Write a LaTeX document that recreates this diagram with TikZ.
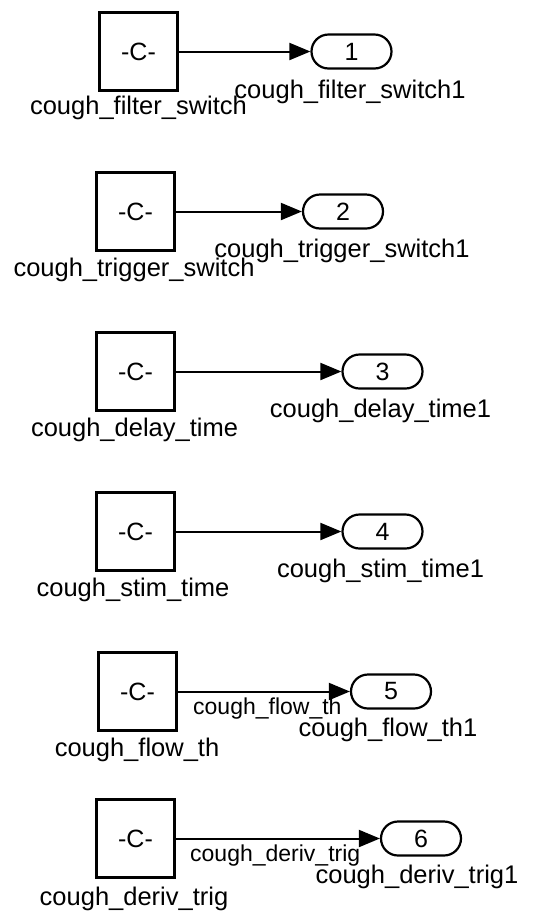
\documentclass[tikz,border=0pt]{standalone}
\usepackage{fontspec}
\setmainfont{Liberation Sans}
\usetikzlibrary{arrows.meta}
\tikzset{
  const/.style={draw, line width=2.6pt, minimum width=78pt, minimum height=78pt, inner sep=0pt, font=\fontsize{25}{28}\selectfont},
  outp/.style={draw, line width=2.2pt, rounded corners=17pt, minimum width=80pt, minimum height=34pt, inner sep=0pt, font=\fontsize{25}{28}\selectfont},
  sig/.style={line width=2pt, -{Triangle[length=21pt,width=17pt]}},
  bname/.style={anchor=base, inner sep=0pt, font=\fontsize{25.5}{28}\selectfont},
  sname/.style={anchor=base west, inner sep=0pt, font=\fontsize{23}{26}\selectfont},
}
\begin{document}
\begin{tikzpicture}[x=1pt,y=-1pt]
\useasboundingbox (0,0) rectangle (535,914);
% row 1
\node[const] (c1) at (138.5,51.5) {-C-};
\node[outp] (o1) at (351.5,51.5) {1};
\draw[sig] (c1.east) -- (o1.west);
\node[bname] (n1) at (138.5,114) {cough\_filter\_switch};
\node[bname] (m1) at (350,98) {cough\_filter\_switch1};
% row 2
\node[const] (c2) at (135.5,211.5) {-C-};
\node[outp] (o2) at (343,211.5) {2};
\draw[sig] (c2.east) -- (o2.west);
\node[bname] (n2) at (134,276) {cough\_trigger\_switch};
\node[bname] (m2) at (342,257) {cough\_trigger\_switch1};
% row 3
\node[const] (c3) at (135.5,371.5) {-C-};
\node[outp] (o3) at (382.5,371.5) {3};
\draw[sig] (c3.east) -- (o3.west);
\node[bname] (n3) at (134.5,436) {cough\_delay\_time};
\node[bname] (m3) at (380.5,417) {cough\_delay\_time1};
% row 4
\node[const] (c4) at (135.5,531.5) {-C-};
\node[outp] (o4) at (382.5,531.5) {4};
\draw[sig] (c4.east) -- (o4.west);
\node[bname] (n4) at (133,596) {cough\_stim\_time};
\node[bname] (m4) at (380.5,577) {cough\_stim\_time1};
% row 5
\node[const] (c5) at (137.5,691.5) {-C-};
\node[outp] (o5) at (391,691.5) {5};
\draw[sig] (c5.east) -- (o5.west);
\node[sname] (s5) at (193,714) {cough\_flow\_th};
\node[bname] (n5) at (137,756) {cough\_flow\_th};
\node[bname] (m5) at (388,736) {cough\_flow\_th1};
% row 6
\node[const] (c6) at (135.5,838.5) {-C-};
\node[outp] (o6) at (421,838.5) {6};
\draw[sig] (c6.east) -- (o6.west);
\node[sname] (s6) at (190,861) {cough\_deriv\_trig};
\node[bname] (n6) at (134,905) {cough\_deriv\_trig};
\node[bname] (m6) at (417,883) {cough\_deriv\_trig1};
\end{tikzpicture}
\end{document}
